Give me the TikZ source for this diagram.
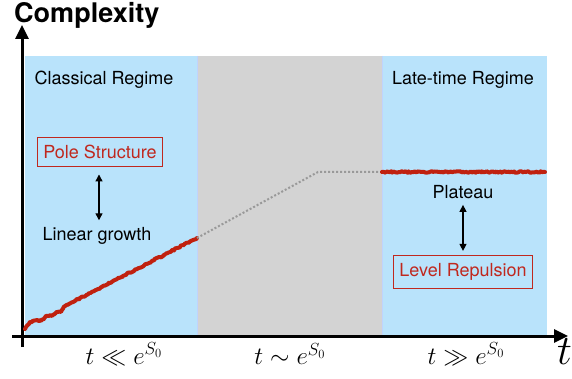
\RequirePackage{fix-cm}
\documentclass[tikz,border=0pt]{standalone}
\usepackage{fontspec}
\setmainfont{TeX Gyre Heros}
\usetikzlibrary{arrows.meta,decorations.pathmorphing}
\definecolor{regimeblue}{HTML}{B9E3FB}
\definecolor{crossgray}{HTML}{D3D3D3}
\definecolor{curvered}{HTML}{C0210F}
\definecolor{boxred}{HTML}{C0281E}
\begin{document}
\begin{tikzpicture}[x=1pt,y=-1pt,
  lbl/.style={font=\fontsize{18}{21}\selectfont, inner sep=0pt},
  redbox/.style={draw=boxred, line width=1.2pt, text=boxred, font=\fontsize{18}{21}\selectfont, inner xsep=6pt, inner ysep=8pt},
  axis/.style={line width=3pt, -{Triangle[length=14pt,width=13pt]}},
  twoway/.style={line width=1.3pt, {Triangle[length=7pt,width=7pt]}-{Triangle[length=7pt,width=7pt]}},
  signal/.style={curvered, line width=4pt, line cap=round, line join=round,
    decorate, decoration={random steps, segment length=1.5pt, amplitude=0.8pt}},
  tlabel/.style={font=\fontsize{25}{28}\selectfont, inner sep=0pt}]
\useasboundingbox (0,0) rectangle (572,379);

% regime panels
\fill[regimeblue] (25,56) rectangle (197,335);
\fill[crossgray] (197,56) rectangle (382,335);
\fill[regimeblue] (382,56) rectangle (547,335);
\draw[regimeblue!80!blue!60!white, line width=0.6pt] (197,56) -- (197,335) (382,56) -- (382,335);

% axes
\draw[axis] (22,347) -- (22,25);
\draw[axis] (12,336) -- (568,336);
\node[font=\fontsize{27}{30}\selectfont\bfseries, anchor=west, inner sep=0pt] (ylab) at (14,15) {Complexity};
\node[font=\fontsize{42}{44}\selectfont, inner sep=0pt, anchor=west] (xlab) at (557,352) {$t$};

% regime titles
\node[lbl] (classical) at (104,80) {Classical Regime};
\node[lbl] (late) at (463,80) {Late-time Regime};

% time scales
\node[tlabel] (early) at (124,354) {$t \ll e^{S_0}$};
\node[tlabel] (mid) at (290,354) {$t \sim e^{S_0}$};
\node[tlabel] (lateT) at (466,354) {$t \gg e^{S_0}$};

% complexity curve
\coordinate (c0) at (25,329);
\coordinate (c1) at (197,238);
\coordinate (c2) at (318,172);
\coordinate (c3) at (382,172);
\coordinate (c4) at (545,172);
\draw[signal] (c0) -- (30,322) -- (37,320) -- (41,321) -- (46,316) -- (52,316) -- (56,312) -- (61,312) -- (65,306) -- (c1);
\draw[gray!80, line width=2pt, dotted, line cap=butt] (c1) -- (c2) -- (c3);
\draw[signal] (c3) -- (c4);

% left annotations
\node[redbox] (pole) at (100,152) {Pole Structure};
\node[lbl] (linear) at (97,236) {Linear growth};
\draw[twoway] ([yshift=-7pt]pole.south -| 99,0) -- ([yshift=7pt]linear.north -| 99,0);

% right annotations
\node[lbl] (plateau) at (463,192) {Plateau};
\node[redbox] (repulsion) at (463,272) {Level Repulsion};
\draw[twoway] ([yshift=-6pt]plateau.south) -- ([yshift=4pt]repulsion.north);
\end{tikzpicture}
\end{document}
